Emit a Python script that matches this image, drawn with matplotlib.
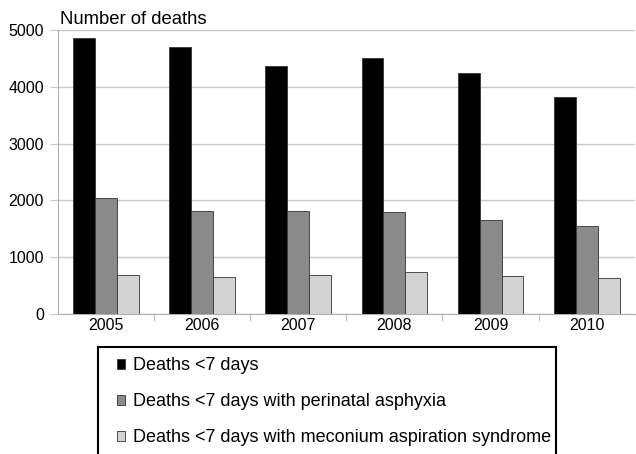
import matplotlib
matplotlib.use("Agg")
import matplotlib.pyplot as plt
from matplotlib.patches import Rectangle
import numpy as np

plt.rcParams['font.family'] = ['Liberation Sans', 'DejaVu Sans']

years = ['2005', '2006', '2007', '2008', '2009', '2010']
deaths_7d = [4855, 4705, 4370, 4515, 4250, 3825]
deaths_asphyxia = [2040, 1810, 1810, 1790, 1655, 1545]
deaths_meconium = [690, 645, 690, 735, 665, 640]

labels = ['Deaths <7 days',
          'Deaths <7 days with perinatal asphyxia',
          'Deaths <7 days with meconium aspiration syndrome']
colors = ['#000000', '#8a8a8a', '#d3d3d3']

fig = plt.figure(figsize=(6.36, 4.54), dpi=100)
ax = fig.add_axes([58/636, 1-314/454, 1-58/636-0.002, (314-30)/454])

x = np.arange(len(years))
w = 0.228
series = [deaths_7d, deaths_asphyxia, deaths_meconium]
for i, (vals, c, lab) in enumerate(zip(series, colors, labels)):
    ax.bar(x + (i-1)*w, vals, width=w, color=c, edgecolor='#333333',
           linewidth=0.6, label=lab, zorder=3)

ax.set_xlim(-0.5, len(years)-0.5)
ax.set_ylim(0, 5000)
ax.set_yticks(range(0, 5001, 1000))
ax.yaxis.grid(True, color='#c8c8c8', linewidth=1.0, zorder=0)
ax.set_xticks(x)
ax.set_xticklabels(years)
ax.set_xticks(np.arange(0.5, len(years)-0.5, 1), minor=True)
ax.tick_params(axis='x', which='major', length=0, labelsize=11.5, pad=3)
ax.tick_params(axis='x', which='minor', length=5, color='#b0b0b0')
ax.tick_params(axis='y', length=6, color='#c8c8c8', labelsize=11.5, pad=4)
for s in ['top', 'right']:
    ax.spines[s].set_visible(False)
ax.spines['left'].set_color('#b0b0b0')
ax.spines['bottom'].set_color('#b0b0b0')

fig.text(60/636, 1-19/454, 'Number of deaths', fontsize=13.3, va='center', ha='left')

# legend box, cut off at bottom like the reference
fig.patches.append(Rectangle((98/636, -0.05), (556-98)/636, (454-347)/454+0.05,
                             transform=fig.transFigure, fill=False,
                             edgecolor='black', linewidth=1.5))
handles, labs = ax.get_legend_handles_labels()
fig.legend(handles, labs, loc='upper left', bbox_to_anchor=(110/636, 1-350/454),
           frameon=False, fontsize=13, handlelength=0.45, handleheight=0.45,
           handletextpad=0.45, labelspacing=1.05, borderaxespad=0)

fig.savefig('out.png', dpi=100)
